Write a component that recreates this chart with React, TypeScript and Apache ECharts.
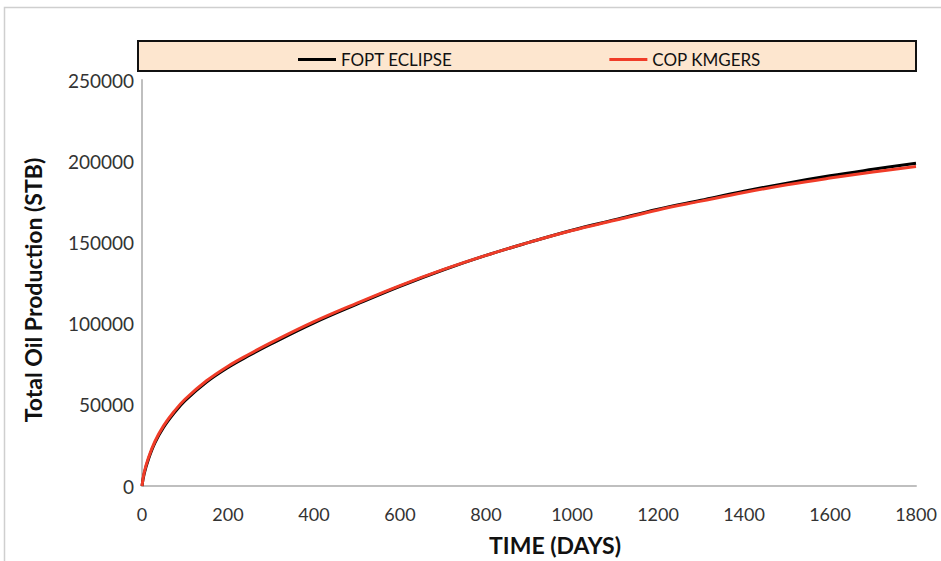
import React, { useEffect, useRef } from "react";
import * as echarts from "echarts";

const days = [0, 5, 15, 30, 50, 75, 100, 150, 200, 250, 300, 400, 500, 600, 700, 800, 900, 1000, 1100, 1200, 1300, 1400, 1500, 1600, 1700, 1800];
const foptEclipse = [0, 7500, 16500, 26500, 36000, 45000, 52500, 64000, 73000, 80500, 87500, 100500, 112000, 123000, 133000, 142000, 150000, 157500, 164000, 170500, 176000, 181500, 186500, 191000, 195000, 198800];
const copKmgers = [0, 8200, 17400, 27400, 37000, 46000, 53400, 64800, 73800, 81300, 88300, 101200, 112600, 123400, 133200, 142000, 150000, 157300, 163600, 170000, 175400, 180700, 185500, 189600, 193300, 196800];
const seriesNames = ["FOPT ECLIPSE", "COP KMGERS"];
const seriesColors = ["#000000", "#f03c28"];
const yTicks = { min: 0, max: 250000, interval: 50000 };
const xTicks = { min: 0, max: 1800, interval: 200 };
const xTitle = "TIME (DAYS)";
const yTitle = "Total Oil Production (STB)";

export default function App() {
  const ref = useRef<HTMLDivElement>(null);
  useEffect(() => {
    if (!ref.current) return;
    const chart = echarts.init(ref.current, null, { renderer: "svg" });
    const datasets = [foptEclipse, copKmgers];
    chart.setOption({
      animation: false,
      backgroundColor: "#ffffff",
      textStyle: { fontFamily: "Lato" },
      graphic: [
        {
          type: "rect",
          shape: { x: 4.5, y: 7.5, width: 980, height: 600 },
          style: { fill: "none", stroke: "#cfcfcf", lineWidth: 1.5 },
          z: -10,
        },
        {
          type: "rect",
          shape: { x: 138, y: 41, width: 778, height: 30 },
          style: { fill: "#fde6cf", stroke: "#111111", lineWidth: 2 },
          z: -5,
        },
        {
          type: "text",
          x: 555,
          y: 545,
          style: {
            text: xTitle,
            fill: "#111111",
            font: "bold 23px Lato",
            align: "center",
            verticalAlign: "middle",
          },
        },
        {
          type: "text",
          x: 33,
          y: 290,
          rotation: Math.PI / 2,
          style: {
            text: yTitle,
            fill: "#111111",
            font: "bold 23px Lato",
            align: "center",
            verticalAlign: "middle",
          },
        },
      ],
      legend: {
        top: 46,
        left: 293,
        itemGap: 157,
        itemWidth: 38,
        itemHeight: 3,
        icon: "rect",
        textStyle: { fontFamily: "Lato", fontSize: 17, color: "#111111" },
        data: seriesNames,
      },
      grid: { left: 142, right: 25, top: 80, bottom: 75 },
      xAxis: {
        type: "value",
        min: xTicks.min,
        max: xTicks.max,
        interval: xTicks.interval,
        axisLine: { show: true, lineStyle: { color: "#bfbfbf", width: 2 } },
        axisTick: { show: false },
        splitLine: { show: false },
        axisLabel: { fontSize: 18, color: "#333333", margin: 19, formatter: (v: number) => String(v) },
      },
      yAxis: {
        type: "value",
        min: yTicks.min,
        max: yTicks.max,
        interval: yTicks.interval,
        axisLine: { show: true, lineStyle: { color: "#bfbfbf", width: 2 } },
        axisTick: { show: false },
        splitLine: { show: false },
        axisLabel: { fontSize: 19, color: "#333333", margin: 8, formatter: (v: number) => String(v) },
      },
      series: seriesNames.map((name, i) => ({
        name,
        type: "line",
        smooth: 0.4,
        symbol: "none",
        color: seriesColors[i],
        lineStyle: { color: seriesColors[i], width: 3 },
        data: days.map((d, j) => [d, datasets[i][j]]),
      })),
    });
    return () => chart.dispose();
  }, []);
  return (
    <div
      ref={ref}
      style={{ position: "fixed", left: 0, top: 0, width: 941, height: 561 }}
    />
  );
}
